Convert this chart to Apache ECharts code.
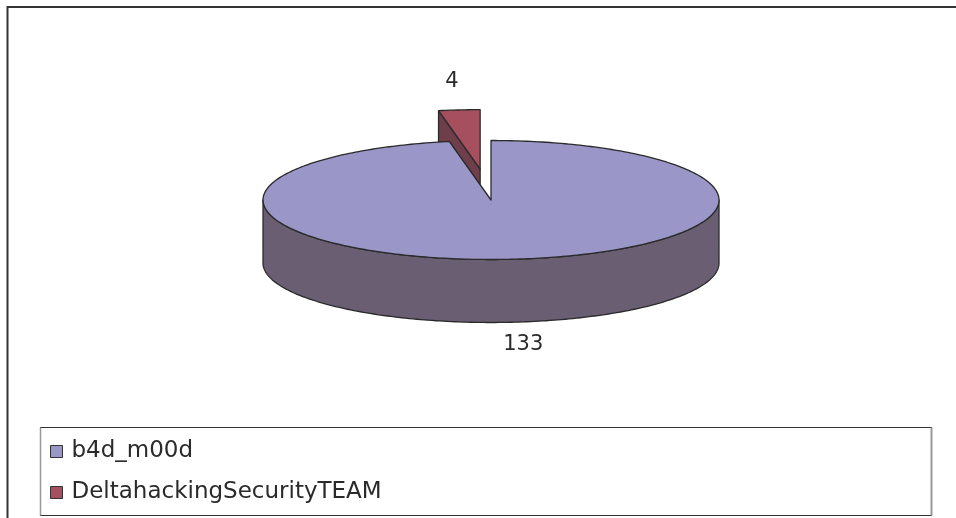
<!DOCTYPE html>
<html><head><meta charset="utf-8">
<script src="https://cdn.jsdelivr.net/npm/echarts@6/dist/echarts.min.js"></script>
<style>html,body{margin:0;padding:0;background:#fff}#c{width:956px;height:518px}</style>
</head><body><div id="c"></div>
<script>
// ---- data ----
const categories = ['b4d_m00d', 'DeltahackingSecurityTEAM'];
const values = [133, 4];

// ---- styling / layout ----
const topColors = ['#9A96C8', '#A6505F'];
const sideColors = ['#6A5E73', '#6E3F4A'];
const explode = [0, 0.52];
const PIE = {cx: 491, cy: 200, rx: 228, ry: 59.5, h: 63};
const FONT = 'DejaVu Sans';
const total = values.reduce((a, b) => a + b, 0);

function sliceAngles(i) {
  let s = 0;
  for (let k = 0; k < i; k++) s += values[k];
  return [s / total * 2 * Math.PI, (s + values[i]) / total * 2 * Math.PI];
}

function makeRender(i) {
  return function (params, api) {
    const v = api.value(0);
    const [a0, a1] = sliceAngles(i);
    const mid = (a0 + a1) / 2;
    const e = explode[i];
    const ox = e * PIE.rx * Math.sin(mid), oy = -e * PIE.ry * Math.cos(mid);
    const P = (t, dz) => [PIE.cx + ox + PIE.rx * Math.sin(t), PIE.cy + oy - PIE.ry * Math.cos(t) + dz];
    const C = (dz) => [PIE.cx + ox, PIE.cy + oy + dz];
    const arc = (t0, t1, dz) => {
      const n = Math.max(2, Math.ceil((t1 - t0) / (Math.PI / 180)));
      const pts = [];
      for (let k = 0; k <= n; k++) pts.push(P(t0 + (t1 - t0) * k / n, dz));
      return pts;
    };
    const base = Math.round((1 - Math.cos(mid)) * 100);
    const st = {stroke: '#2a2a2a', lineWidth: 1.3, lineJoin: 'round'};
    const ch = [];
    if (Math.sin(a0) < -1e-6) {
      ch.push({type: 'polygon', z2: base + 1, shape: {points: [C(0), P(a0, 0), P(a0, PIE.h), C(PIE.h)]},
        style: Object.assign({fill: sideColors[i]}, st)});
    }
    if (Math.sin(a1) > 1e-6) {
      ch.push({type: 'polygon', z2: base + 1, shape: {points: [C(0), P(a1, 0), P(a1, PIE.h), C(PIE.h)]},
        style: Object.assign({fill: sideColors[i]}, st)});
    }
    const s0 = Math.max(a0, Math.PI / 2), s1 = Math.min(a1, 3 * Math.PI / 2);
    if (s1 > s0) {
      const pts = arc(s0, s1, 0).concat(arc(s0, s1, PIE.h).reverse());
      ch.push({type: 'polygon', z2: base + 2, shape: {points: pts}, style: Object.assign({fill: sideColors[i]}, st)});
    }
    ch.push({type: 'polygon', z2: base + 3, shape: {points: [C(0)].concat(arc(a0, a1, 0))},
      style: Object.assign({fill: topColors[i]}, st)});
    const lp = Math.cos(mid) < 0 ? P(mid, PIE.h) : P(mid, 0);
    ch.push({type: 'text', z2: 900, style: {
      text: String(v), x: lp[0] + Math.sin(mid) * 80 + (Math.cos(mid) < 0 ? 4 : 0), y: lp[1] - Math.cos(mid) * 25 - 3,
      align: 'center', verticalAlign: 'middle', font: '21px "' + FONT + '"', fill: '#2a2a2a'}});
    return {type: 'group', children: ch};
  };
}

const chart = echarts.init(document.getElementById('c'));
chart.setOption({
  animation: false,
  backgroundColor: '#fff',
  legend: {
    orient: 'vertical', left: 45, top: 435, itemWidth: 12, itemHeight: 12, itemGap: 18,
    icon: 'rect', data: categories, selectedMode: false,
    itemStyle: {borderColor: '#333', borderWidth: 1},
    textStyle: {fontFamily: FONT, fontSize: 23, color: '#2a2a2a', padding: [0, 0, 0, 4]}
  },
  graphic: [
    {type: 'polyline', silent: true, shape: {points: [[7.5, 530], [7.5, 7], [960, 7]]}, style: {stroke: '#333', lineWidth: 2, fill: null}},
    {type: 'line', silent: true, shape: {x1: 40, y1: 427.5, x2: 932, y2: 427.5}, style: {stroke: '#333', lineWidth: 1}},
    {type: 'line', silent: true, shape: {x1: 40, y1: 515.5, x2: 932, y2: 515.5}, style: {stroke: '#333', lineWidth: 1}},
    {type: 'line', silent: true, shape: {x1: 40.5, y1: 427.5, x2: 40.5, y2: 515.5}, style: {stroke: '#999', lineWidth: 1.5}},
    {type: 'line', silent: true, shape: {x1: 931.5, y1: 427.5, x2: 931.5, y2: 515.5}, style: {stroke: '#999', lineWidth: 2}}
  ],
  series: categories.map((name, i) => ({
    type: 'custom', name: name, coordinateSystem: 'none',
    itemStyle: {color: topColors[i]},
    renderItem: makeRender(i),
    data: [values[i]]
  }))
});
</script></body></html>
